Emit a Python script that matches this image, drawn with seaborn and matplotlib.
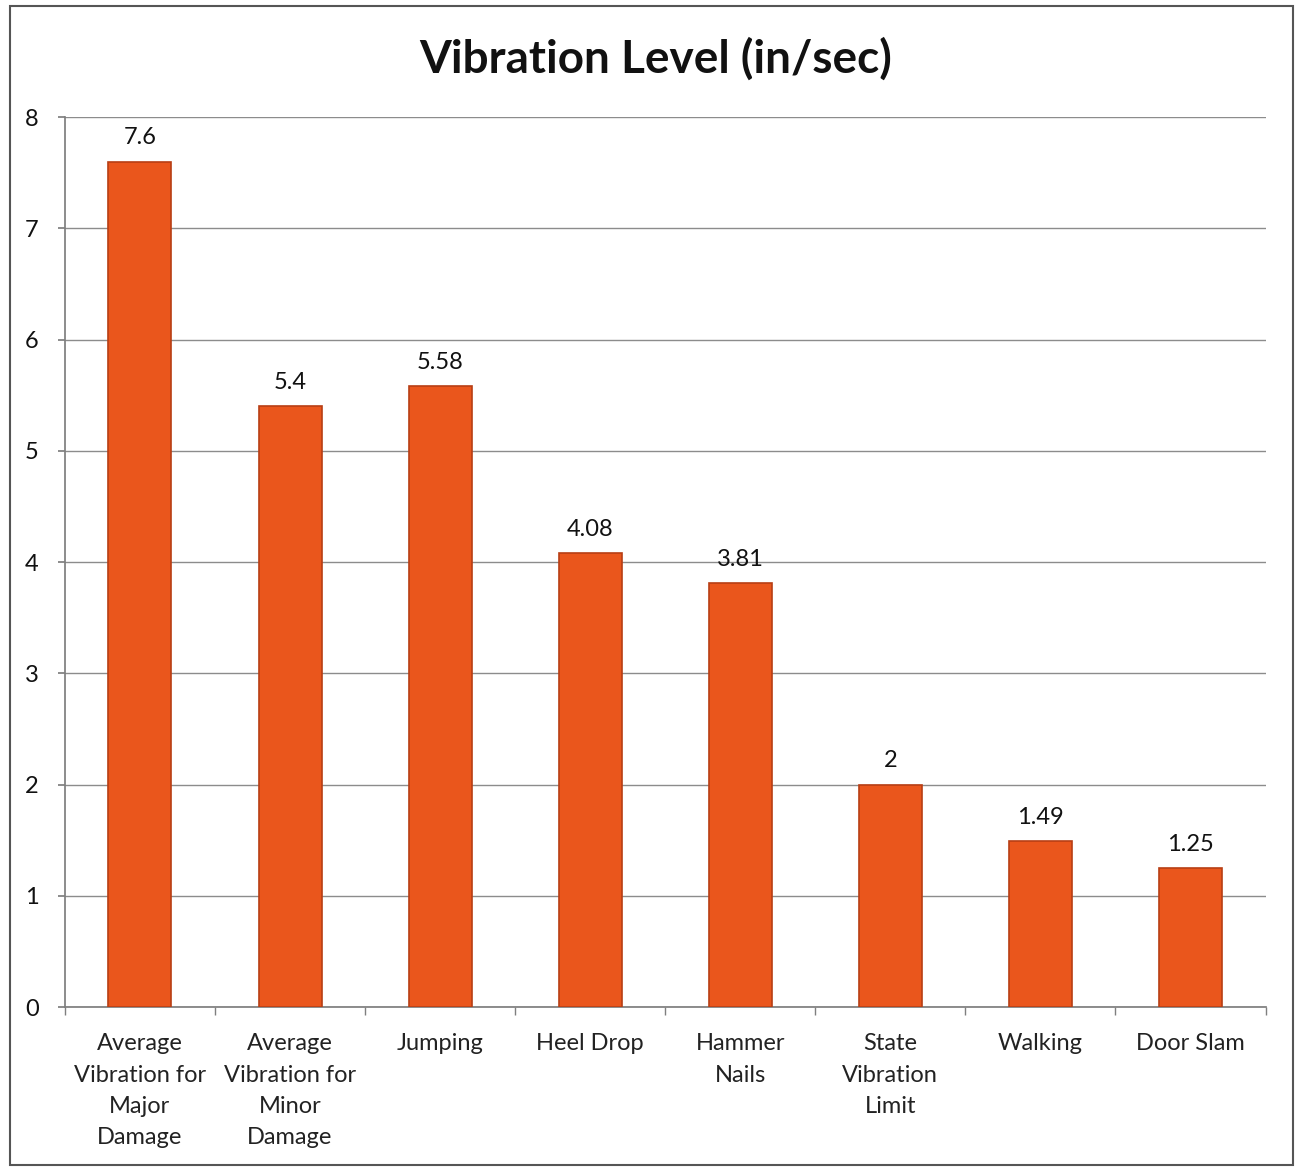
import matplotlib
matplotlib.use("Agg")
import matplotlib.pyplot as plt
import seaborn as sns
import pandas as pd
from matplotlib.patches import Rectangle

categories = ["Average\nVibration for\nMajor\nDamage", "Average\nVibration for\nMinor\nDamage",
              "Jumping", "Heel Drop", "Hammer\nNails", "State\nVibration\nLimit", "Walking", "Door Slam"]
values = [7.6, 5.4, 5.58, 4.08, 3.81, 2, 1.49, 1.25]
labels = ["7.6", "5.4", "5.58", "4.08", "3.81", "2", "1.49", "1.25"]
yticks = [0, 1, 2, 3, 4, 5, 6, 7, 8]

sns.set_theme(style="white")
plt.rcParams['font.family'] = ['Lato', 'DejaVu Sans']

df = pd.DataFrame({"cat": categories, "val": values})

fig = plt.figure(figsize=(12.98, 11.71), dpi=100)
ax = fig.add_axes([0.050, 0.140, 0.925, 0.760])
sns.barplot(data=df, x="cat", y="val", color="#EA561C", width=0.42, saturation=1,
            edgecolor="#B83E14", linewidth=1.2, ax=ax, zorder=3)

ax.set_ylim(0, 8)
ax.set_yticks(yticks)
ax.set_xlim(-0.5, len(categories) - 0.5)
ax.yaxis.grid(True, color="#8c8c8c", linewidth=1.0, zorder=0)
ax.set_axisbelow(True)
for s in ["top", "right"]:
    ax.spines[s].set_visible(False)
ax.spines["left"].set_color("#7f7f7f")
ax.spines["bottom"].set_color("#7f7f7f")
ax.set_xlabel("")
ax.set_ylabel("")
ax.tick_params(axis="y", labelsize=17, colors="#111111", length=5, color="#7f7f7f", left=True, pad=14)
ax.tick_params(axis="x", labelsize=17, colors="#222222", length=0, pad=19)
for lab in ax.get_xticklabels():
    lab.set_linespacing(1.6)

# minor ticks between categories on x axis
ax.set_xticks([i + 0.5 for i in range(-1, len(categories))], minor=True)
ax.tick_params(axis="x", which="minor", length=6, color="#7f7f7f", bottom=True)

for i, (v, t) in enumerate(zip(values, labels)):
    ax.text(i, v + 0.12, t, ha="center", va="bottom", fontsize=17, color="#111111")

fig.suptitle("Vibration Level (in/sec)", x=0.505, y=0.968, fontsize=33, fontweight="bold", color="#111111")

fig.patches.append(Rectangle((0.008, 0.005), 0.988, 0.99, transform=fig.transFigure,
                             fill=False, edgecolor="#555555", linewidth=1.5))

fig.savefig("out.png", dpi=100)
